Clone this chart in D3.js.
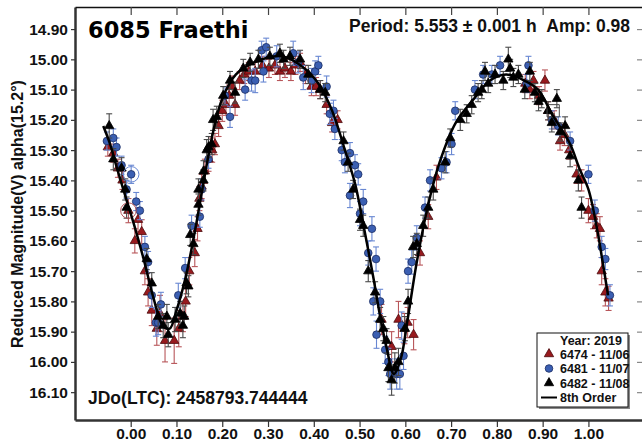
<!DOCTYPE html>
<html>
<head>
<meta charset="utf-8">
<script src="https://cdn.jsdelivr.net/npm/d3@7"></script>
<style>
  html, body { margin: 0; padding: 0; background: #fff; }
  svg { display: block; font-family: "Liberation Sans", Arial, sans-serif; font-weight: bold; }
  text { white-space: pre; }
</style>
</head>
<body>
<div id="container"></div>
<script>
/* CONSTANTS AND GLOBALS */
const width = 642,
      height = 442,
      plotLeft = 75,
      plotTop = 7,
      plotRight = 645,
      plotBottom = 420;

/* DATA */
const titleText = "6085 Fraethi";
const periodText = "Period: 5.553 \u00b1 0.001 h\u00a0\u00a0Amp: 0.98";
const epochText = "JDo(LTC): 2458793.744444";
const yLabel = "Reduced Magnitude(V) alpha(15.2\u00b0)";

const xTicks = [0.00, 0.10, 0.20, 0.30, 0.40, 0.50, 0.60, 0.70, 0.80, 0.90, 1.00];
const yTicks = [14.90, 15.00, 15.10, 15.20, 15.30, 15.40, 15.50, 15.60, 15.70, 15.80, 15.90, 16.00, 16.10];

const legendYear = "Year: 2019";
const sessions = ["6474 - 11/06", "6481 - 11/07", "6482 - 11/08"];
const fitLabel = "8th Order";

// [phase, mag, err]
const session6474 = [
  [-0.050,15.29,0.030],[-0.038,15.31,0.030],[-0.028,15.36,0.030],[-0.018,15.40,0.030],[-0.005,15.50,0.040],
  [0.009,15.60,0.040],[0.016,15.53,0.040],[0.024,15.57,0.040],[0.031,15.70,0.045],[0.038,15.77,0.045],
  [0.046,15.83,0.050],[0.057,15.89,0.055],[0.064,15.84,0.060],[0.075,15.93,0.070],[0.095,15.93,0.075],
  [0.105,15.89,0.060],[0.114,15.85,0.050],[0.120,15.80,0.050],[0.128,15.70,0.045],[0.140,15.64,0.045],
  [0.146,15.56,0.040],[0.150,15.46,0.040],[0.155,15.42,0.040],[0.162,15.37,0.040],[0.170,15.33,0.040],
  [0.178,15.30,0.040],[0.184,15.28,0.035],[0.192,15.22,0.035],[0.200,15.17,0.035],[0.208,15.15,0.035],
  [0.215,15.12,0.035],[0.222,15.09,0.035],[0.228,15.15,0.035],[0.238,15.07,0.030],[0.248,15.05,0.030],
  [0.258,15.04,0.030],[0.272,15.04,0.030],[0.288,15.02,0.030],[0.302,15.03,0.030],[0.315,15.02,0.030],
  [0.326,15.04,0.030],[0.337,15.03,0.030],[0.350,15.04,0.030],[0.360,15.02,0.030],[0.370,15.01,0.030],
  [0.382,15.05,0.030],[0.395,15.09,0.030],[0.405,15.09,0.030],[0.414,15.10,0.030],[0.428,15.15,0.030],
  [0.440,15.21,0.030],[0.452,15.20,0.030],
  [0.548,15.86,0.050],[0.570,15.95,0.050],[0.585,15.86,0.060],[0.598,15.89,0.050],[0.605,15.87,0.050],
  [0.618,15.91,0.050],[0.632,15.64,0.040],[0.650,15.52,0.040],[0.668,15.39,0.040],
  [0.862,15.08,0.030],[0.872,15.10,0.030],[0.880,15.07,0.030],[0.892,15.12,0.030],[0.905,15.07,0.035],
  [0.912,15.17,0.030],[0.925,15.20,0.030],[0.938,15.27,0.030],[0.948,15.25,0.035],[0.958,15.30,0.030],
  [0.974,15.38,0.030],[0.985,15.40,0.035],[1.000,15.50,0.040],[1.010,15.52,0.040],[1.018,15.55,0.040],
  [1.025,15.56,0.040],[1.029,15.70,0.045],[1.037,15.77,0.045],[1.044,15.79,0.040]
];

const session6481 = [
  [-0.052,15.27,0.030],[-0.038,15.26,0.030],[-0.031,15.29,0.030],[-0.020,15.35,0.030],[-0.009,15.43,0.030],
  [0.001,15.38,0.030],[0.012,15.47,0.030],[0.020,15.50,0.030],[0.031,15.62,0.035],[0.038,15.67,0.035],
  [0.046,15.78,0.040],[0.055,15.87,0.045],[0.060,15.87,0.040],[0.066,15.81,0.040],[0.104,15.78,0.040],
  [0.119,15.69,0.035],[0.133,15.55,0.035],[0.151,15.52,0.035],[0.155,15.43,0.035],[0.170,15.33,0.030],
  [0.206,15.12,0.030],[0.217,15.19,0.035],[0.250,15.10,0.035],[0.264,15.07,0.035],[0.272,15.07,0.040],
  [0.286,14.97,0.030],[0.290,15.04,0.035],[0.296,14.96,0.030],[0.319,14.99,0.035],[0.355,14.98,0.040],
  [0.366,15.01,0.035],[0.377,15.06,0.040],[0.395,15.07,0.040],[0.403,15.04,0.035],[0.410,15.02,0.030],
  [0.428,15.09,0.035],[0.435,15.18,0.035],[0.443,15.17,0.035],[0.446,15.23,0.035],[0.461,15.30,0.035],
  [0.468,15.34,0.035],[0.479,15.31,0.035],[0.479,15.45,0.040],[0.490,15.35,0.035],[0.497,15.38,0.035],
  [0.501,15.51,0.040],[0.508,15.47,0.040],[0.519,15.64,0.040],[0.527,15.56,0.040],[0.530,15.80,0.045],
  [0.536,15.66,0.040],[0.537,15.91,0.045],[0.545,15.80,0.040],[0.556,15.96,0.045],[0.563,16.00,0.045],
  [0.567,16.04,0.050],[0.581,16.04,0.050],[0.588,16.04,0.050],[0.592,15.88,0.045],[0.596,15.98,0.045],
  [0.606,15.70,0.040],[0.614,15.67,0.040],[0.625,15.59,0.040],[0.643,15.49,0.035],[0.654,15.40,0.035],
  [0.679,15.36,0.035],[0.690,15.34,0.035],[0.701,15.28,0.035],[0.709,15.17,0.030],[0.752,15.10,0.030],
  [0.770,15.05,0.030],[0.789,15.05,0.030],[0.807,15.02,0.030],[0.865,15.08,0.030],[0.869,15.02,0.030],
  [0.920,15.20,0.030],[0.934,15.22,0.030],[0.960,15.27,0.030],[1.000,15.38,0.030],[1.014,15.50,0.035],
  [1.029,15.62,0.035],[1.037,15.66,0.035],[1.047,15.78,0.035]
];

const session6482 = [
  [-0.047,15.22,0.040],[-0.038,15.33,0.035],[-0.020,15.36,0.035],[-0.012,15.43,0.035],[-0.009,15.49,0.035],
  [0.035,15.66,0.035],[0.046,15.74,0.035],[0.060,15.85,0.040],[0.071,15.88,0.040],[0.079,15.85,0.040],
  [0.082,15.91,0.040],[0.097,15.86,0.040],[0.108,15.84,0.040],[0.114,15.88,0.040],[0.117,15.85,0.035],
  [0.122,15.74,0.035],[0.126,15.75,0.035],[0.130,15.58,0.035],[0.137,15.61,0.035],[0.148,15.43,0.035],
  [0.148,15.48,0.035],[0.159,15.37,0.035],[0.159,15.40,0.035],[0.166,15.30,0.035],[0.170,15.29,0.035],
  [0.177,15.28,0.035],[0.180,15.20,0.035],[0.188,15.19,0.035],[0.202,15.12,0.030],[0.217,15.07,0.030],
  [0.228,15.11,0.035],[0.246,15.03,0.030],[0.261,15.01,0.030],[0.279,15.00,0.030],[0.304,14.99,0.030],
  [0.326,14.98,0.030],[0.334,15.00,0.030],[0.348,14.99,0.030],[0.370,15.00,0.030],[0.388,15.05,0.030],
  [0.414,15.10,0.030],[0.425,15.11,0.030],[0.465,15.27,0.030],[0.475,15.34,0.030],[0.486,15.43,0.030],
  [0.501,15.53,0.035],[0.508,15.55,0.035],[0.519,15.70,0.035],[0.534,15.77,0.035],[0.545,15.86,0.040],
  [0.552,15.89,0.040],[0.559,15.93,0.040],[0.563,16.02,0.045],[0.570,16.06,0.050],[0.577,16.02,0.050],
  [0.585,16.00,0.045],[0.599,15.89,0.040],[0.606,15.80,0.040],[0.617,15.62,0.035],[0.625,15.61,0.035],
  [0.639,15.55,0.035],[0.650,15.49,0.035],[0.661,15.43,0.035],[0.687,15.34,0.035],[0.698,15.26,0.030],
  [0.720,15.20,0.035],[0.734,15.18,0.030],[0.745,15.15,0.030],[0.759,15.11,0.030],[0.767,15.10,0.030],
  [0.774,15.04,0.030],[0.781,15.08,0.030],[0.796,15.05,0.030],[0.814,15.07,0.030],[0.825,15.00,0.040],
  [0.829,15.03,0.030],[0.836,15.06,0.030],[0.847,15.05,0.030],[0.861,15.10,0.030],[0.872,15.04,0.030],
  [0.883,15.11,0.030],[0.891,15.14,0.030],[0.898,15.13,0.030],[0.912,15.17,0.030],[0.920,15.21,0.030],
  [0.931,15.13,0.030],[0.938,15.24,0.030],[0.949,15.22,0.030],[0.960,15.32,0.035],[0.978,15.40,0.035],
  [0.985,15.49,0.035]
];

// points rejected from the fit: [session index, phase, mag]
const excluded = [[1, 0.001, 15.38], [0, -0.005, 15.50], [2, 0.923, 15.17]];

// 8th order Fourier fit: [phase, mag]
const fitCurve = [
  [-0.060,15.22],[-0.045,15.28],[-0.030,15.36],[-0.010,15.46],[0.010,15.56],[0.030,15.67],[0.050,15.79],
  [0.070,15.88],[0.085,15.89],[0.100,15.83],[0.120,15.72],[0.140,15.57],[0.160,15.40],[0.180,15.24],
  [0.200,15.13],[0.230,15.05],[0.270,15.01],[0.330,14.99],[0.380,15.03],[0.410,15.08],[0.440,15.17],
  [0.470,15.31],[0.490,15.41],[0.510,15.56],[0.530,15.72],[0.545,15.85],[0.560,15.96],[0.575,16.04],
  [0.590,15.99],[0.605,15.86],[0.625,15.67],[0.650,15.48],[0.675,15.34],[0.710,15.21],[0.750,15.13],
  [0.785,15.07],[0.820,15.05],[0.860,15.07],[0.890,15.10],[0.920,15.18],[0.960,15.28],[0.980,15.36],
  [1.000,15.43],[1.020,15.57],[1.030,15.66],[1.043,15.78]
];

const allSessions = [session6474, session6481, session6482];

/* STYLES per session */
const fills = ["#981a1e", "#3b5fb2", "#000000"];
const strokes = ["#4a0a0c", "#1b2c62", "#000000"];
const barColors = ["#b8565a", "#6887d2", "#4a4a4a"];
const shapes = [d3.symbolTriangle, d3.symbolCircle, d3.symbolTriangle];
const sizes = [38, 46, 38];

/* SCALES */
const xScale = d3.scaleLinear().domain([-0.1217, 1.1236]).range([plotLeft, plotRight]);
const yScale = d3.scaleLinear().domain([14.827, 16.192]).range([plotTop, plotBottom]);

const svg = d3.select("#container")
  .append("svg")
  .attr("width", width)
  .attr("height", height);

/* AXES */
const gLeft = svg.append("g")
  .attr("transform", `translate(${plotLeft},0)`)
  .call(d3.axisLeft(yScale).tickValues(yTicks).tickFormat(d3.format(".2f")).tickSize(4).tickPadding(3).tickSizeOuter(0));

const gBottom = svg.append("g")
  .attr("transform", `translate(0,${plotBottom})`)
  .call(d3.axisBottom(xScale).tickValues(xTicks).tickFormat(d3.format(".2f")).tickSize(7).tickPadding(1).tickSizeOuter(0));

const gTop = svg.append("g")
  .attr("transform", `translate(0,${plotTop})`)
  .call(d3.axisBottom(xScale).tickValues(xTicks).tickFormat("").tickSize(8).tickSizeOuter(0));

const gRight = svg.append("g")
  .attr("transform", `translate(${plotRight},0)`)
  .call(d3.axisLeft(yScale).tickValues(yTicks).tickFormat("").tickSize(8).tickSizeOuter(0));

[gLeft, gBottom].forEach(g => {
  g.select(".domain").attr("stroke", "#333").attr("stroke-width", 2.5);
  g.selectAll(".tick line").attr("stroke", "#333").attr("stroke-width", 1.2);
  g.selectAll(".tick text")
    .attr("fill", "#111")
    .style("font-size", "15.5px")
    .style("font-weight", "bold")
    .style("font-family", "'Liberation Sans', Arial, sans-serif");
});
gTop.select(".domain").attr("stroke", "#111").attr("stroke-width", 1.5);
gTop.selectAll(".tick line").attr("stroke", "#444").attr("stroke-width", 1.2);
gRight.select(".domain").attr("stroke", "#111").attr("stroke-width", 1.5);
gRight.selectAll(".tick line").attr("stroke", "#888").attr("stroke-width", 1.2);

/* TEXTS */
svg.append("text")
  .attr("x", 23)
  .attr("y", 214)
  .attr("transform", "rotate(-90, 23, 214)")
  .attr("text-anchor", "middle")
  .style("font-size", "16px")
  .attr("fill", "#111")
  .text(yLabel);

svg.append("text")
  .attr("x", 88)
  .attr("y", 38)
  .style("font-size", "22.5px")
  .style("font-family", "'DejaVu Sans', Verdana, sans-serif")
  .attr("fill", "#000")
  .text(titleText);

svg.append("text")
  .attr("x", 630)
  .attr("y", 32)
  .attr("text-anchor", "end")
  .style("font-size", "17.5px")
  .attr("fill", "#111")
  .text(periodText);

svg.append("text")
  .attr("x", 88)
  .attr("y", 404)
  .style("font-size", "17.5px")
  .attr("fill", "#111")
  .text(epochText);

/* DATA MARKS */
const plot = svg.append("g");

allSessions.forEach((data, i) => {
  const g = plot.append("g").attr("class", "session" + i);

  const bars = g.selectAll(".err")
    .data(data)
    .join("g")
    .attr("class", "err")
    .attr("stroke", barColors[i])
    .attr("stroke-width", 1.1);

  bars.append("line")
    .attr("x1", d => xScale(d[0]))
    .attr("x2", d => xScale(d[0]))
    .attr("y1", d => yScale(d[1] - d[2]))
    .attr("y2", d => yScale(d[1] + d[2]));
  bars.append("line")
    .attr("x1", d => xScale(d[0]) - 3)
    .attr("x2", d => xScale(d[0]) + 3)
    .attr("y1", d => yScale(d[1] - d[2]))
    .attr("y2", d => yScale(d[1] - d[2]));
  bars.append("line")
    .attr("x1", d => xScale(d[0]) - 3)
    .attr("x2", d => xScale(d[0]) + 3)
    .attr("y1", d => yScale(d[1] + d[2]))
    .attr("y2", d => yScale(d[1] + d[2]));

  g.selectAll(".pt")
    .data(data)
    .join("path")
    .attr("class", "pt")
    .attr("d", d3.symbol(shapes[i]).size(sizes[i]))
    .attr("transform", d => `translate(${xScale(d[0])},${yScale(d[1])})`)
    .attr("fill", fills[i])
    .attr("stroke", strokes[i])
    .attr("stroke-width", 0.8);
});

// rejected points marked with an open ring or box
plot.selectAll(".rej")
  .data(excluded)
  .join("path")
  .attr("class", "rej")
  .attr("d", d => d3.symbol(d[0] === 2 ? d3.symbolSquare : d3.symbolCircle).size(d[0] === 2 ? 150 : 190)())
  .attr("transform", d => `translate(${xScale(d[1])},${yScale(d[2])})`)
  .attr("fill", "none")
  .attr("stroke", d => barColors[d[0]])
  .attr("stroke-width", 1);

/* FIT CURVE */
const line = d3.line()
  .x(d => xScale(d[0]))
  .y(d => yScale(d[1]))
  .curve(d3.curveCatmullRom.alpha(0.5));

plot.append("path")
  .datum(fitCurve)
  .attr("d", line)
  .attr("fill", "none")
  .attr("stroke", "#000")
  .attr("stroke-width", 2.5);

/* LEGEND */
const lx = 537, ly = 333, lw = 91, lh = 74;
const legend = svg.append("g");
legend.append("rect")
  .attr("x", lx + 2).attr("y", ly + 2)
  .attr("width", lw).attr("height", lh)
  .attr("fill", "#888");
legend.append("rect")
  .attr("x", lx).attr("y", ly)
  .attr("width", lw).attr("height", lh)
  .attr("fill", "#fff")
  .attr("stroke", "#111")
  .attr("stroke-width", 1);

legend.append("text")
  .attr("x", 560).attr("y", ly + 12)
  .style("font-size", "12.5px")
  .attr("fill", "#111")
  .text(legendYear);

sessions.forEach((label, i) => {
  const cy = ly + 21 + i * 14.5;
  legend.append("path")
    .attr("d", d3.symbol(shapes[i]).size(sizes[i])())
    .attr("transform", `translate(549,${cy})`)
    .attr("fill", fills[i])
    .attr("stroke", strokes[i])
    .attr("stroke-width", 0.8);
  legend.append("text")
    .attr("x", 560).attr("y", cy + 4.5)
    .style("font-size", "12.5px")
    .attr("fill", "#111")
    .text(label);
});

const fy = ly + 21 + 3 * 14.5;
legend.append("line")
  .attr("x1", 541).attr("x2", 557)
  .attr("y1", fy).attr("y2", fy)
  .attr("stroke", "#000")
  .attr("stroke-width", 2);
legend.append("text")
  .attr("x", 560).attr("y", fy + 4.5)
  .style("font-size", "12.5px")
  .attr("fill", "#111")
  .text(fitLabel);
</script>
</body>
</html>
